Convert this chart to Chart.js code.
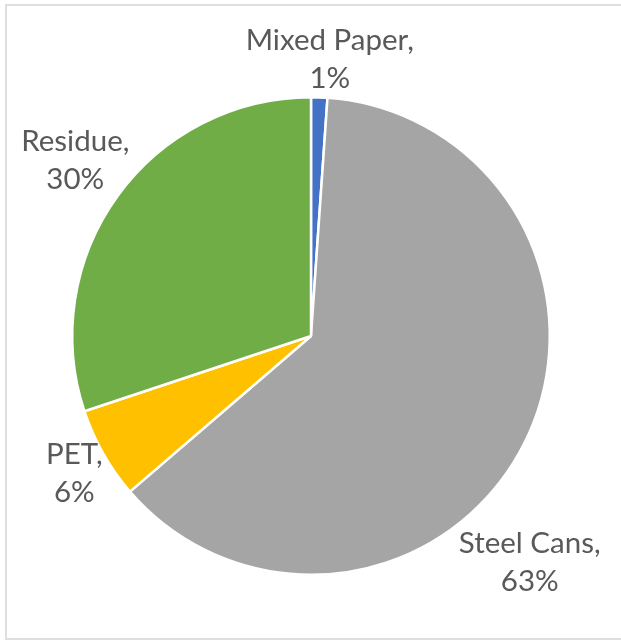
<!DOCTYPE html>
<html>
<head>
<meta charset="utf-8">
<script src="https://cdn.jsdelivr.net/npm/chart.js@4.4.1/dist/chart.umd.min.js"></script>
<style>
html,body{margin:0;background:#fff;overflow:hidden;width:621px;height:640px;}
#frame{position:absolute;left:5px;top:4px;width:616px;height:636px;border:2px solid #dedede;border-right:none;box-sizing:border-box;}
#pie{position:absolute;left:0;top:0;}
</style>
</head>
<body>
<div id="frame"></div>
<canvas id="pie" width="621" height="640"></canvas>
<script>
// data
const categories = ["Mixed Paper", "Steel Cans", "PET", "Residue"];
const shares = [1.1, 62.6, 6.2, 30.1];
const shareLabels = ["1%", "63%", "6%", "30%"];
const colours = ["#4472C4", "#A5A5A5", "#FFC000", "#70AD47"];

// where each data label sits, relative to its slice (angle shift in degrees, distance as radius factor)
const labelPlace = [
{shift:1.9, dist:1.161},
{shift:19.4, dist:1.32},
{shift:-0.6, dist:1.146},
{shift:0.8, dist:1.23}
];

const outsideLabels = {
id:"outsideLabels",
afterDatasetsDraw(chart){
const ctx = chart.ctx;
const arcs = chart.getDatasetMeta(0).data;
ctx.save();
ctx.font = "29.5px Lato";
ctx.fillStyle = "#595959";
ctx.textAlign = "center";
ctx.textBaseline = "middle";
arcs.forEach((arc, i) => {
const p = labelPlace[i];
const mid = (arc.startAngle + arc.endAngle) / 2 + p.shift * Math.PI / 180;
const r = arc.outerRadius * p.dist;
const x = arc.x + Math.cos(mid) * r;
const y = arc.y + Math.sin(mid) * r;
ctx.fillText(categories[i] + ",", x, y - 19);
ctx.fillText(shareLabels[i], x, y + 19);
});
ctx.restore();
}
};

new Chart(document.getElementById("pie"),{
type:"pie",
data:{
labels:categories,
datasets:[{
data:shares,
backgroundColor:colours,
borderColor:"#ffffff",
borderWidth:2.5
}]
},
options:{
responsive:false,
animation:false,
layout:{ padding:{ top:96, bottom:64, left:71, right:70 } },
plugins:{
legend:{ display:false },
tooltip:{ enabled:false }
}
},
plugins:[outsideLabels]
});
</script>
</body>
</html>
